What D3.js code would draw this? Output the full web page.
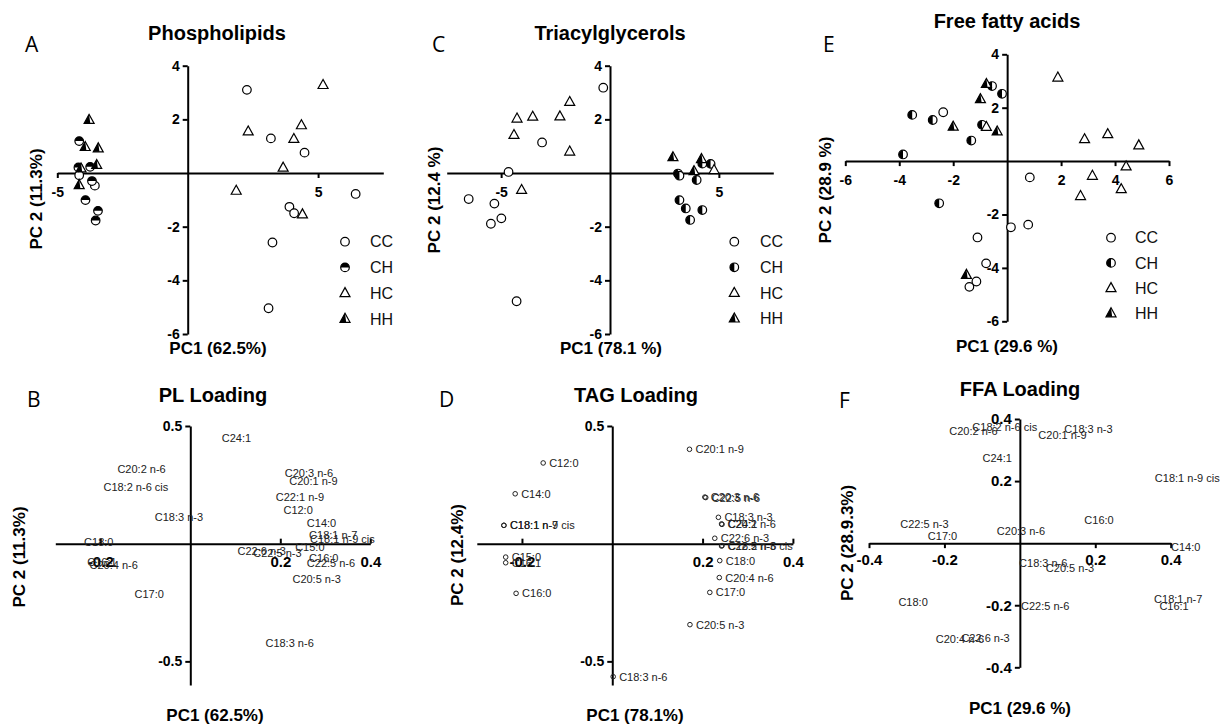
<!DOCTYPE html>
<html>
<head>
<meta charset="utf-8">
<script src="https://cdn.jsdelivr.net/npm/d3@7"></script>
<style>
  body { margin: 0; background: #fff; }
  svg { font-family: "Liberation Sans", Arial, sans-serif; }
</style>
</head>
<body>
<div id="container"></div>
<script>
// ---- data: score plots [PC1, PC2] ----
const groups = ["CC", "CH", "HC", "HH"];

const plCC = [[2.27, 3.10], [3.19, 1.29], [4.48, 0.76], [6.44, -0.78], [3.90, -1.26], [4.08, -1.50],
  [3.25, -2.59], [3.10, -5.04], [-4.16, -0.08], [-3.56, -0.47]];
const plCH = [[-4.16, 1.19], [-3.74, 0.23], [-4.19, 0.21], [-3.67, -0.30], [-3.92, -1.01], [-3.44, -1.41], [-3.53, -1.77]];
const plHC = [[5.19, 3.28], [2.32, 1.55], [4.36, 1.78], [4.07, 1.27], [3.66, 0.20], [1.86, -0.66], [4.40, -1.54]];
const plHH = [[-3.78, 1.98], [-3.93, 0.97], [-3.43, 0.92], [-3.49, 0.30], [-4.09, 0.17], [-4.16, -0.45]];

const tagCC = [[-0.31, 3.18], [-3.12, 1.14], [-4.66, 0.04], [-6.49, -0.97], [-5.31, -1.14], [-4.99, -1.69],
  [-5.47, -1.89], [-4.29, -4.78]];
const tagCH = [[4.62, 0.34], [4.24, 0.35], [3.12, -0.02], [3.19, -0.10], [3.98, -0.26], [3.19, -1.01],
  [3.48, -1.32], [4.24, -1.38], [3.68, -1.75]];
const tagHC = [[-1.85, 2.65], [-4.27, 2.03], [-3.55, 2.10], [-2.30, 2.11], [-4.41, 1.42], [-1.85, 0.80],
  [-4.06, -0.63], [4.78, 0.11]];
const tagHH = [[2.89, 0.59], [4.20, 0.52], [3.86, 0.07]];

const ffaCC = [[-2.37, 1.83], [0.84, -0.61], [0.78, -2.38], [0.14, -2.48], [-1.10, -2.86], [-0.78, -3.83],
  [-1.14, -4.51], [-1.40, -4.71]];
const ffaCH = [[-3.52, 1.73], [-2.76, 1.54], [-3.86, 0.25], [-1.33, 0.77], [-0.93, 1.36], [-0.56, 2.81],
  [-0.19, 2.52], [-2.52, -1.58]];
const ffaHC = [[1.88, 3.13], [2.87, 0.82], [3.73, 1.01], [4.88, 0.59], [4.41, -0.20], [3.16, -0.55],
  [4.23, -1.05], [2.72, -1.31], [-0.77, 1.28]];
const ffaHH = [[-0.77, 2.89], [-0.99, 2.32], [-2.00, 1.29], [-0.37, 1.11], [-1.51, -4.26]];

// ---- data: loading plots [name, PC1, PC2] ----
const plLoading = [
  ["C24:1", 0.070, 0.448], ["C20:2 n-6", -0.162, 0.316], ["C18:2 n-6 cis", -0.193, 0.242],
  ["C18:3 n-3", -0.079, 0.112], ["C18:0", -0.236, 0.006], ["C16:1", -0.229, -0.076],
  ["C20:4 n-6", -0.224, -0.091], ["C17:0", -0.124, -0.212], ["C20:3 n-6", 0.210, 0.299],
  ["C20:1 n-9", 0.220, 0.266], ["C22:1 n-9", 0.190, 0.197], ["C12:0", 0.207, 0.143],
  ["C14:0", 0.259, 0.086], ["C18:1 n-7", 0.264, 0.037], ["C18:1 n-9 cis", 0.266, 0.018],
  ["C15:0", 0.233, -0.013], ["C22:6 n-3", 0.105, -0.033], ["C22:5 n-3", 0.140, -0.038],
  ["C16:0", 0.264, -0.062], ["C22:5 n-6", 0.259, -0.081], ["C20:5 n-3", 0.227, -0.152],
  ["C18:3 n-6", 0.167, -0.424]
];
const tagLoading = [
  ["C20:1 n-9", 0.171, 0.401], ["C12:0", -0.153, 0.343], ["C14:0", -0.215, 0.212],
  ["C18:1 n-9 cis", -0.240, 0.078], ["C18:1 n-7", -0.240, 0.078], ["C15:0", -0.236, -0.057],
  ["C16:1", -0.236, -0.081], ["C16:0", -0.213, -0.211], ["C20:3 n-6", 0.205, 0.198],
  ["C22:5 n-6", 0.207, 0.196], ["C18:3 n-3", 0.235, 0.112], ["C20:2 n-6", 0.242, 0.084],
  ["C24:1", 0.243, 0.082], ["C22:6 n-3", 0.227, 0.023], ["C22:5 n-3", 0.242, -0.010],
  ["C18:2 n-6 cis", 0.243, -0.008], ["C18:0", 0.238, -0.072], ["C20:4 n-6", 0.237, -0.144],
  ["C17:0", 0.216, -0.207], ["C20:5 n-3", 0.172, -0.344], ["C18:3 n-6", 0.002, -0.565]
];
const ffaLoading = [
  ["C18:2 n-6 cis", -0.126, 0.374], ["C20:2 n-6", -0.187, 0.361], ["C20:1 n-9", 0.049, 0.349],
  ["C18:3 n-3", 0.118, 0.368], ["C24:1", -0.099, 0.274], ["C18:1 n-9 cis", 0.358, 0.209],
  ["C16:0", 0.171, 0.074], ["C22:5 n-3", -0.317, 0.061], ["C17:0", -0.244, 0.024],
  ["C20:3 n-6", -0.061, 0.040], ["C14:0", 0.401, -0.012], ["C18:3 n-6", -0.002, -0.065],
  ["C20:5 n-3", 0.069, -0.080], ["C18:0", -0.322, -0.189], ["C22:5 n-6", 0.003, -0.202],
  ["C18:1 n-7", 0.356, -0.181], ["C16:1", 0.370, -0.203], ["C20:4 n-6", -0.223, -0.309],
  ["C22:6 n-3", -0.155, -0.306]
];

// ticks
const scoreYTicks = [4, 2, -2, -4, -6];
const plXTicks = [-5, 5];
const tagXTicks = [-5, 5];
const ffaXTicks = [-6, -4, -2, 2, 4, 6];
const loadXTicks = [-0.2, 0.2, 0.4];
const loadYTicks = [0.5, -0.5];
const ffaLoadTicks = [-0.4, -0.2, 0.2, 0.4];

// ---- drawing ----
const svg = d3.select('#container').append('svg')
  .attr('width', 1220)
  .attr('height', 724);

const styleAxis = (sel, size) => {
  sel.select('.domain').attr('stroke', '#000').attr('stroke-width', 2);
  sel.selectAll('.tick line').attr('stroke', '#000').attr('stroke-width', 2);
  sel.selectAll('.tick text')
    .attr('fill', '#000')
    .attr('font-size', size)
    .attr('font-weight', 'bold')
    .attr('font-family', '"Liberation Sans", Arial, sans-serif');
};

const drawAxes = (g, x, y, o) => {
  g.append('g')
    .attr('transform', `translate(0,${y(0)})`)
    .call(d3.axisBottom(x).tickValues(o.xTicks).tickFormat(d => String(d))
      .tickSizeInner(o.xTickSize).tickSizeOuter(0).tickPadding(o.xPad))
    .call(s => styleAxis(s, o.xFont));
  g.append('g')
    .attr('transform', `translate(${x(0)},0)`)
    .call(d3.axisLeft(y).tickValues(o.yTicks).tickFormat(d => String(d))
      .tickSizeInner(5).tickSizeOuter(0).tickPadding(3))
    .call(s => styleAxis(s, o.yFont));
};

const drawLabels = (g, o) => {
  g.append('text').attr('x', o.title[0]).attr('y', o.title[1])
    .attr('text-anchor', 'middle').attr('font-size', 20).attr('font-weight', 'bold')
    .text(o.title[2]);
  g.append('text').attr('x', o.letter[0]).attr('y', o.letter[1])
    .attr('font-family', '"Open Sans", sans-serif').attr('font-size', 21)
    .text(o.letter[2]);
  g.append('text').attr('x', o.xLabel[0]).attr('y', o.xLabel[1])
    .attr('text-anchor', 'middle').attr('font-size', 17).attr('font-weight', 'bold')
    .text(o.xLabel[2]);
  g.append('text')
    .attr('transform', `translate(${o.yLabel[0]},${o.yLabel[1]}) rotate(-90)`)
    .attr('text-anchor', 'middle').attr('font-size', 17).attr('font-weight', 'bold')
    .text(o.yLabel[2]);
};

const marker = (g, group, half, cx, cy) => {
  const r = 4.3;
  if (group === 'CC' || group === 'CH') {
    g.append('circle').attr('cx', cx).attr('cy', cy).attr('r', r)
      .attr('fill', '#fff').attr('stroke', '#000').attr('stroke-width', 1.2);
    if (group === 'CH') {
      const d = half === 'top'
        ? `M${cx - r},${cy} A${r},${r} 0 0 1 ${cx + r},${cy} Z`
        : `M${cx},${cy - r} A${r},${r} 0 0 0 ${cx},${cy + r} Z`;
      g.append('path').attr('d', d).attr('fill', '#000');
    }
  } else {
    const pts = [[cx, cy - 5.5], [cx - 5, cy + 3.5], [cx + 5, cy + 3.5]];
    g.append('path').attr('d', d3.line()(pts) + 'Z')
      .attr('fill', '#fff').attr('stroke', '#000').attr('stroke-width', 1.2)
      .attr('stroke-linejoin', 'miter');
    if (group === 'HH') {
      g.append('path').attr('d', d3.line()([[cx, cy - 5.5], [cx - 5, cy + 3.5], [cx + 1.2, cy + 3.5]]) + 'Z')
        .attr('fill', '#000');
    }
  }
};

const scorePanel = (o) => {
  const x = d3.scaleLinear().domain(o.xDomain).range(o.xRange);
  const y = d3.scaleLinear().domain(o.yDomain).range(o.yRange);
  const g = svg.append('g');
  drawAxes(g, x, y, { xTicks: o.xTicks, yTicks: scoreYTicks, xTickSize: 5, xPad: 9, xFont: 14, yFont: 14 });
  const pts = g.append('g');
  o.series.forEach((s, i) => {
    s.forEach(d => marker(pts, groups[i], o.half, x(d[0]), y(d[1])));
  });
  const legend = g.append('g');
  groups.forEach((name, i) => {
    const ly = o.legend[1] + i * o.legend[3];
    marker(legend, name, o.half, o.legend[0], ly);
    legend.append('text').attr('x', o.legend[2]).attr('y', ly + 5.7)
      .attr('font-size', 16).attr('fill', '#111').text(name);
  });
  drawLabels(g, o);
};

const loadingPanel = (o) => {
  const x = d3.scaleLinear().domain(o.xDomain).range(o.xRange);
  const y = d3.scaleLinear().domain(o.yDomain).range(o.yRange);
  const g = svg.append('g');
  drawAxes(g, x, y, { xTicks: o.xTicks, yTicks: o.yTicks, xTickSize: o.xTickSize, xPad: o.xPad, xFont: 15, yFont: o.yFont });
  const lab = g.append('g').attr('font-size', 11).attr('fill', '#222');
  if (o.dots) {
    lab.selectAll('circle').data(o.data).join('circle')
      .attr('cx', d => x(d[1])).attr('cy', d => y(d[2])).attr('r', 2.3)
      .attr('fill', 'none').attr('stroke', '#222').attr('stroke-width', 1);
  }
  lab.selectAll('text').data(o.data).join('text')
    .attr('x', d => x(d[1]) + (o.dots ? 6 : 0))
    .attr('y', d => y(d[2]) + 4)
    .text(d => d[0]);
  drawLabels(g, o);
};

scorePanel({
  series: [plCC, plCH, plHC, plHH], half: 'top',
  xDomain: [-5, 7.5], xRange: [57.3, 383.3], yDomain: [-6, 4], yRange: [334, 65.7],
  xTicks: plXTicks, legend: [345, 241.7, 370, 25.7],
  title: [217, 40, 'Phospholipids'], letter: [25, 52, 'A'],
  xLabel: [218, 354, 'PC1 (62.5%)'], yLabel: [41.5, 199, 'PC 2 (11.3%)']
});
scorePanel({
  series: [tagCC, tagCH, tagHC, tagHH], half: 'left',
  xDomain: [-7.5, 7.5], xRange: [446.7, 773.3], yDomain: [-6, 4], yRange: [334, 65.7],
  xTicks: tagXTicks, legend: [734.3, 241.7, 760, 25.6],
  title: [610, 40, 'Triacylglycerols'], letter: [432, 52, 'C'],
  xLabel: [611, 354, 'PC1 (78.1 %)'], yLabel: [440, 200, 'PC 2 (12.4 %)']
});
scorePanel({
  series: [ffaCC, ffaCH, ffaHC, ffaHH], half: 'left',
  xDomain: [-6, 6], xRange: [845.3, 1169], yDomain: [-6, 4], yRange: [321.3, 54.3],
  xTicks: ffaXTicks, legend: [1111, 237.7, 1135, 25.2],
  title: [1007, 28, 'Free fatty acids'], letter: [823, 52, 'E'],
  xLabel: [1007, 352, 'PC1 (29.6 %)'], yLabel: [831, 190, 'PC 2 (28.9 %)']
});

loadingPanel({
  data: plLoading, dots: false,
  xDomain: [-0.3, 0.4], xRange: [55.3, 370.3], yDomain: [-0.6, 0.5], yRange: [684.9, 426],
  xTicks: loadXTicks, yTicks: loadYTicks, xTickSize: -5, xPad: 13, yFont: 14,
  title: [213, 401.7, 'PL Loading'], letter: [27, 407, 'B'],
  xLabel: [215, 721, 'PC1 (62.5%)'], yLabel: [25, 557, 'PC 2 (11.3%)']
});
loadingPanel({
  data: tagLoading, dots: true,
  xDomain: [-0.3, 0.4], xRange: [476.8, 792.9], yDomain: [-0.6, 0.5], yRange: [684.9, 426],
  xTicks: loadXTicks, yTicks: loadYTicks, xTickSize: -5, xPad: 13, yFont: 14,
  title: [636, 401.7, 'TAG Loading'], letter: [439, 407, 'D'],
  xLabel: [635, 721, 'PC1 (78.1%)'], yLabel: [463, 555, 'PC 2 (12.4%)']
});
loadingPanel({
  data: ffaLoading, dots: false,
  xDomain: [-0.4, 0.4], xRange: [869, 1170.7], yDomain: [-0.4, 0.4], yRange: [667.3, 419],
  xTicks: ffaLoadTicks, yTicks: ffaLoadTicks, xTickSize: 5, xPad: 6, yFont: 15,
  title: [1020, 396, 'FFA Loading'], letter: [839, 408, 'F'],
  xLabel: [1020, 714, 'PC1 (29.6 %)'], yLabel: [853, 543, 'PC 2 (28.9.3%)']
});
</script>
</body>
</html>
